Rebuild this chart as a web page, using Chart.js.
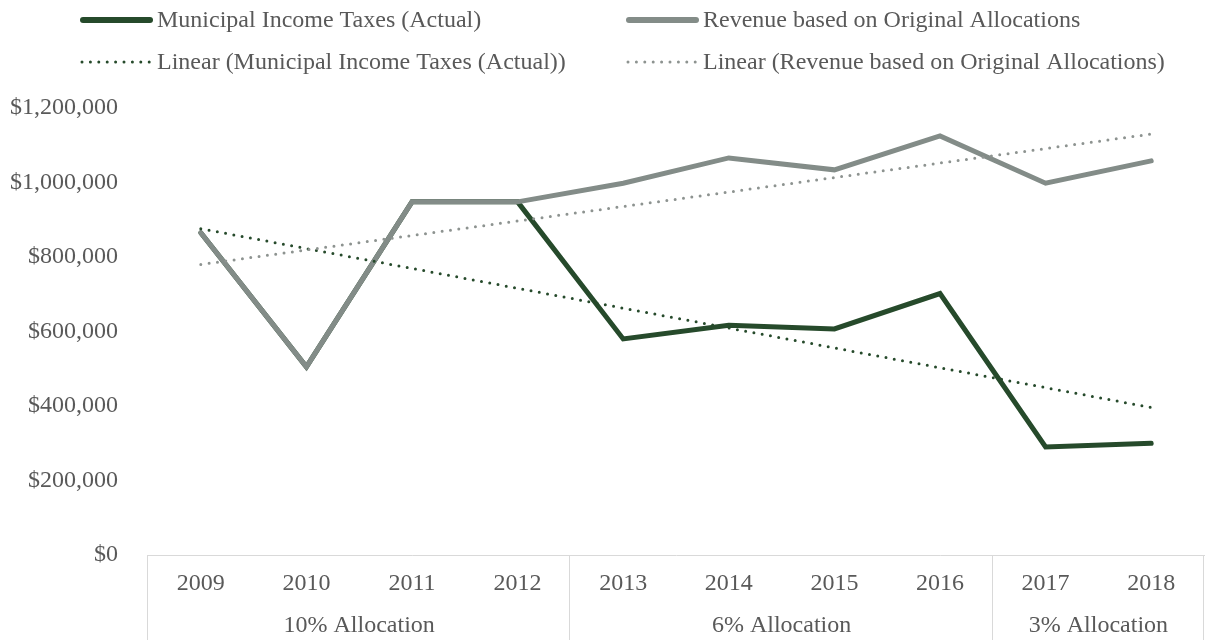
<!DOCTYPE html>
<html lang="en">
<head>
  <meta charset="UTF-8">
  <title>Municipal Income Taxes vs Original Allocations</title>
  <script src="https://cdn.jsdelivr.net/npm/chart.js"></script>
  <style>
    html, body { margin: 0; padding: 0; background: #ffffff; }
    #wrap { width: 1205px; height: 640px; position: relative; }
  </style>
</head>
<body>
  <div id="wrap">
    <canvas id="lineChart"></canvas>
  </div>

  <script>
    const years = ['2009', '2010', '2011', '2012', '2013', '2014', '2015', '2016', '2017', '2018'];
    const groupLabels = ['10% Allocation', '6% Allocation', '3% Allocation'];
    const groupSizes = [4, 4, 2];
    const actualTaxes = [865000, 505000, 948000, 948000, 580000, 617000, 607000, 702000, 290000, 300000];
    const originalAlloc = [865000, 505000, 948000, 948000, 998000, 1066000, 1034000, 1125000, 998000, 1058000];
    // trendline end points (2009 and 2018)
    const trendActual = [876000, null, null, null, null, null, null, null, null, 396000];
    const trendOriginal = [780000, null, null, null, null, null, null, null, null, 1130000];

    const darkGreen = '#264a2b';
    const greyGreen = '#838c88';
    const textColor = '#595959';
    const axisColor = '#d9d9d9';
    const fontFamily = '"Liberation Serif", "Times New Roman", serif';

    // legend drawn by hand so it sits in two columns like the original
    const legendPlugin = {
      id: 'twoColLegend',
      afterDraw(chart) {
        const ctx = chart.ctx;
        const items = [
          { ds: 0, x: 83, y: 20, textX: 157 },
          { ds: 1, x: 629, y: 20, textX: 703 },
          { ds: 2, x: 82, y: 62, textX: 157 },
          { ds: 3, x: 628, y: 62, textX: 703 }
        ];
        ctx.save();
        ctx.font = '24px ' + fontFamily;
        ctx.textBaseline = 'middle';
        items.forEach(it => {
          const ds = chart.data.datasets[it.ds];
          ctx.beginPath();
          ctx.strokeStyle = ds.borderColor;
          ctx.lineWidth = ds.borderDash ? ds.borderWidth : 6;
          ctx.lineCap = 'round';
          ctx.setLineDash(ds.borderDash || []);
          ctx.moveTo(it.x, it.y);
          ctx.lineTo(it.x + (ds.borderDash ? 69 : 67), it.y);
          ctx.stroke();
          ctx.setLineDash([]);
          ctx.fillStyle = textColor;
          ctx.textAlign = 'left';
          ctx.fillText(ds.label, it.textX, it.y + 1);
        });
        ctx.restore();
      }
    };

    // group labels and separators under the year axis
    const groupPlugin = {
      id: 'groupAxis',
      afterDraw(chart) {
        const ctx = chart.ctx;
        const x = chart.scales.x;
        const area = chart.chartArea;
        const bottom = chart.height;
        let start = 0;
        const edges = [area.left];
        ctx.save();
        ctx.font = '24px ' + fontFamily;
        ctx.fillStyle = textColor;
        ctx.textAlign = 'center';
        ctx.textBaseline = 'middle';
        groupSizes.forEach((n, i) => {
          const end = start + n - 1;
          const left = start === 0 ? area.left : (x.getPixelForValue(start - 1) + x.getPixelForValue(start)) / 2;
          const right = end === years.length - 1 ? area.right : (x.getPixelForValue(end) + x.getPixelForValue(end + 1)) / 2;
          edges.push(right);
          ctx.fillText(groupLabels[i], (left + right) / 2, 626);
          start += n;
        });
        ctx.strokeStyle = axisColor;
        ctx.lineWidth = 1;
        edges.forEach(e => {
          const px = Math.round(e) - 0.5;
          ctx.beginPath();
          ctx.moveTo(px, area.bottom);
          ctx.lineTo(px, bottom);
          ctx.stroke();
        });
        ctx.restore();
      }
    };

    const ctxLine = document.getElementById('lineChart').getContext('2d');

    const lineChart = new Chart(ctxLine, {
      type: 'line',
      data: {
        labels: years,
        datasets: [{
          label: 'Municipal Income Taxes (Actual)',
          data: actualTaxes,
          borderColor: darkGreen,
          borderWidth: 5,
          order: 3
        }, {
          label: 'Revenue based on Original Allocations',
          data: originalAlloc,
          borderColor: greyGreen,
          borderWidth: 5,
          order: 2
        }, {
          label: 'Linear (Municipal Income Taxes (Actual))',
          data: trendActual,
          borderColor: darkGreen,
          borderWidth: 3,
          borderDash: [0, 8.4],
          borderCapStyle: 'round',
          spanGaps: true,
          order: 1
        }, {
          label: 'Linear (Revenue based on Original Allocations)',
          data: trendOriginal,
          borderColor: '#8d9390',
          borderWidth: 3,
          borderDash: [0, 8.4],
          borderCapStyle: 'round',
          spanGaps: true,
          order: 0
        }]
      },
      options: {
        responsive: true,
        maintainAspectRatio: false,
        animation: false,
        layout: { padding: { top: 108, right: 1, left: 0, bottom: 0 } },
        elements: {
          point: { radius: 0, hoverRadius: 0 },
          line: { tension: 0, borderJoinStyle: 'miter', borderCapStyle: 'round' }
        },
        plugins: {
          legend: { display: false },
          tooltip: { enabled: false }
        },
        scales: {
          x: {
            offset: true,
            grid: { display: false },
            border: { display: true, color: axisColor, width: 1 },
            ticks: {
              color: textColor,
              font: { family: fontFamily, size: 24 },
              padding: 6,
              maxRotation: 0,
              autoSkip: false
            },
            afterFit(scale) { scale.height = 85; }
          },
          y: {
            min: 0,
            max: 1200000,
            grid: { display: false },
            border: { display: false },
            ticks: {
              stepSize: 200000,
              color: textColor,
              font: { family: fontFamily, size: 24 },
              padding: 22,
              callback: v => '$' + v.toLocaleString('en-US')
            },
            afterFit(scale) { scale.width = 148; }
          }
        }
      },
      plugins: [legendPlugin, groupPlugin]
    });
  </script>
</body>
</html>
